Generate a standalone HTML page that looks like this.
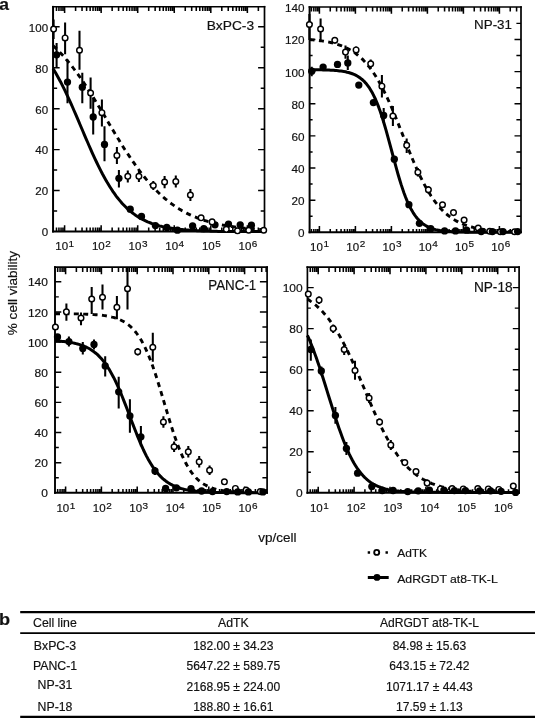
<!DOCTYPE html>
<html lang="en">
<head>
<meta charset="utf-8">
<title>Cell viability figure</title>
<style>
html,body{margin:0;padding:0;background:#fff;}
body{width:535px;height:720px;overflow:hidden;position:relative;font-family:"Liberation Sans", Arial, Helvetica, sans-serif;}
svg{position:absolute;left:0;top:0;display:block;will-change:transform;-webkit-font-smoothing:antialiased;}
svg text{font-family:"Liberation Sans", Arial, Helvetica, sans-serif;fill:#111;stroke:#111;stroke-width:0.18px;}
.tk{font-size:11.3px;}
.sup{font-size:9.8px;}
.ti{font-size:13px;}
.ax{font-size:13.5px;}
.lg{font-size:11.4px;}
.pl{font-size:16.5px;font-weight:bold;}
.tb{font-size:12px;}
</style>
</head>
<body>
<svg width="535" height="720" viewBox="0 0 535 720">
<rect x="0" y="0" width="535" height="720" fill="#fff"/>
<g id="plot1">
<path d="M53.05,5.9V232.45" stroke="#000" stroke-width="2.0" fill="none"/>
<path d="M52.05,231.5H265.35" stroke="#000" stroke-width="1.9" fill="none"/>
<path d="M264.5,5.9V232.45" stroke="#000" stroke-width="1.7" fill="none"/>
<path d="M52.05,6.75H265.35" stroke="#000" stroke-width="1.7" fill="none"/>
<path d="M56.49,231.5v-4.0M56.49,6.75v4.2M58.94,231.5v-4.0M58.94,6.75v4.2M61.06,231.5v-4.0M61.06,6.75v4.2M62.93,231.5v-4.0M62.93,6.75v4.2M64.6,231.5v-6.2M64.6,6.75v6.3M75.6,231.5v-4.0M75.6,6.75v4.2M82.04,231.5v-4.0M82.04,6.75v4.2M86.61,231.5v-4.0M86.61,6.75v4.2M90.15,231.5v-4.0M90.15,6.75v4.2M93.04,231.5v-4.0M93.04,6.75v4.2M95.49,231.5v-4.0M95.49,6.75v4.2M97.61,231.5v-4.0M97.61,6.75v4.2M99.48,231.5v-4.0M99.48,6.75v4.2M101.15,231.5v-6.2M101.15,6.75v6.3M112.15,231.5v-4.0M112.15,6.75v4.2M118.59,231.5v-4.0M118.59,6.75v4.2M123.16,231.5v-4.0M123.16,6.75v4.2M126.7,231.5v-4.0M126.7,6.75v4.2M129.59,231.5v-4.0M129.59,6.75v4.2M132.04,231.5v-4.0M132.04,6.75v4.2M134.16,231.5v-4.0M134.16,6.75v4.2M136.03,231.5v-4.0M136.03,6.75v4.2M137.7,231.5v-6.2M137.7,6.75v6.3M148.7,231.5v-4.0M148.7,6.75v4.2M155.14,231.5v-4.0M155.14,6.75v4.2M159.71,231.5v-4.0M159.71,6.75v4.2M163.25,231.5v-4.0M163.25,6.75v4.2M166.14,231.5v-4.0M166.14,6.75v4.2M168.59,231.5v-4.0M168.59,6.75v4.2M170.71,231.5v-4.0M170.71,6.75v4.2M172.58,231.5v-4.0M172.58,6.75v4.2M174.25,231.5v-6.2M174.25,6.75v6.3M185.25,231.5v-4.0M185.25,6.75v4.2M191.69,231.5v-4.0M191.69,6.75v4.2M196.26,231.5v-4.0M196.26,6.75v4.2M199.8,231.5v-4.0M199.8,6.75v4.2M202.69,231.5v-4.0M202.69,6.75v4.2M205.14,231.5v-4.0M205.14,6.75v4.2M207.26,231.5v-4.0M207.26,6.75v4.2M209.13,231.5v-4.0M209.13,6.75v4.2M210.8,231.5v-6.2M210.8,6.75v6.3M221.8,231.5v-4.0M221.8,6.75v4.2M228.24,231.5v-4.0M228.24,6.75v4.2M232.81,231.5v-4.0M232.81,6.75v4.2M236.35,231.5v-4.0M236.35,6.75v4.2M239.24,231.5v-4.0M239.24,6.75v4.2M241.69,231.5v-4.0M241.69,6.75v4.2M243.81,231.5v-4.0M243.81,6.75v4.2M245.68,231.5v-4.0M245.68,6.75v4.2M247.35,231.5v-6.2M247.35,6.75v6.3M258.35,231.5v-4.0M258.35,6.75v4.2" stroke="#000" stroke-width="1.55" fill="none"/>
<path d="M53.05,211.03h4.1M264.5,211.03h-3.8M53.05,190.56h6.6M264.5,190.56h-6.4M53.05,170.09h4.1M264.5,170.09h-3.8M53.05,149.62h6.6M264.5,149.62h-6.4M53.05,129.15h4.1M264.5,129.15h-3.8M53.05,108.68h6.6M264.5,108.68h-6.4M53.05,88.21h4.1M264.5,88.21h-3.8M53.05,67.74h6.6M264.5,67.74h-6.4M53.05,47.27h4.1M264.5,47.27h-3.8M53.05,26.8h6.6M264.5,26.8h-6.4" stroke="#000" stroke-width="1.45" fill="none"/>
<text transform="translate(48.05,235.6) scale(1.02,1)" text-anchor="end" class="tk">0</text>
<text transform="translate(48.05,194.9) scale(1.02,1)" text-anchor="end" class="tk">20</text>
<text transform="translate(48.05,154.2) scale(1.02,1)" text-anchor="end" class="tk">40</text>
<text transform="translate(48.05,113.5) scale(1.02,1)" text-anchor="end" class="tk">60</text>
<text transform="translate(48.05,72.8) scale(1.02,1)" text-anchor="end" class="tk">80</text>
<text transform="translate(48.05,32.1) scale(1.02,1)" text-anchor="end" class="tk">100</text>
<text transform="translate(55.3,250.3) scale(1.02,1)" class="tk">10<tspan dx="0.5" dy="-3.3" class="sup">1</tspan></text>
<text transform="translate(91.95,250.3) scale(1.02,1)" class="tk">10<tspan dx="0.5" dy="-3.3" class="sup">2</tspan></text>
<text transform="translate(128.6,250.3) scale(1.02,1)" class="tk">10<tspan dx="0.5" dy="-3.3" class="sup">3</tspan></text>
<text transform="translate(165.25,250.3) scale(1.02,1)" class="tk">10<tspan dx="0.5" dy="-3.3" class="sup">4</tspan></text>
<text transform="translate(201.9,250.3) scale(1.02,1)" class="tk">10<tspan dx="0.5" dy="-3.3" class="sup">5</tspan></text>
<text transform="translate(238.55,250.3) scale(1.02,1)" class="tk">10<tspan dx="0.5" dy="-3.3" class="sup">6</tspan></text>
<text transform="translate(254.1,30.1) scale(1.06,1)" text-anchor="end" class="ti" style="font-size:13px">BxPC-3</text>
<path d="M53.0,68.5 L54.5,71.0 L56.0,73.5 L57.5,76.2 L59.0,78.9 L60.5,81.7 L62.0,84.7 L63.5,87.6 L65.0,90.7 L66.5,93.9 L68.0,97.1 L69.5,100.3 L71.0,103.7 L72.5,107.0 L74.0,110.5 L75.5,113.9 L77.0,117.4 L78.5,120.9 L80.0,124.5 L81.5,128.0 L83.0,131.5 L84.5,135.1 L86.0,138.6 L87.5,142.0 L89.0,145.5 L90.5,148.9 L92.0,152.3 L93.5,155.6 L95.0,158.8 L96.5,162.0 L98.0,165.1 L99.5,168.1 L101.0,171.1 L102.5,174.0 L104.0,176.7 L105.5,179.4 L107.0,182.1 L108.5,184.6 L110.0,187.0 L111.5,189.3 L113.0,191.6 L114.5,193.7 L116.0,195.8 L117.5,197.8 L119.0,199.6 L120.5,201.4 L122.0,203.2 L123.5,204.8 L125.0,206.3 L126.5,207.8 L128.1,209.2 L129.6,210.5 L131.1,211.8 L132.6,213.0 L134.1,214.1 L135.6,215.2 L137.1,216.2 L138.6,217.1 L140.1,218.0 L141.6,218.9 L143.1,219.7 L144.6,220.4 L146.1,221.1 L147.6,221.8 L149.1,222.4 L150.6,223.0 L152.1,223.6 L153.6,224.1 L155.1,224.6 L156.6,225.0 L158.1,225.5 L159.6,225.9 L161.1,226.2 L162.6,226.6 L164.1,226.9 L165.6,227.2 L167.1,227.5 L168.6,227.8 L170.1,228.1 L171.6,228.3 L173.1,228.5 L174.6,228.7 L176.1,228.9 L177.6,229.1 L179.1,229.3 L180.6,229.5 L182.1,229.6 L183.6,229.7 L185.1,229.9 L186.6,230.0 L188.1,230.1 L189.6,230.2 L191.1,230.3 L192.6,230.4 L194.1,230.5 L195.6,230.6 L197.1,230.7 L198.6,230.8 L200.1,230.8 L201.6,230.9 L203.1,230.9 L204.6,231.0 L206.1,231.1 L207.6,231.1 L209.1,231.1 L210.6,231.2 L212.1,231.2 L213.6,231.3 L215.1,231.3 L216.6,231.3 L218.1,231.4 L219.6,231.4 L221.1,231.4 L222.6,231.4 L224.1,231.5 L225.6,231.5 L227.1,231.5 L228.6,231.5 L230.1,231.5 L231.6,231.5 L233.1,231.5 L234.6,231.5 L236.1,231.5 L237.6,231.5 L239.1,231.5 L240.6,231.5 L242.1,231.5 L243.6,231.5 L245.1,231.5 L246.6,231.5 L248.1,231.5 L249.6,231.5 L251.1,231.5 L252.6,231.5 L254.1,231.5 L255.6,231.5 L257.1,231.5 L258.6,231.5 L260.1,231.5 L261.6,231.5 L263.1,231.5" fill="none" stroke="#000" stroke-width="3.0" stroke-linejoin="round"/>
<path d="M53.0,45.6 L54.5,47.0 L56.0,48.4 L57.5,49.9 L59.0,51.4 L60.5,53.0 L62.0,54.6 L63.5,56.2 L65.0,57.9 L66.5,59.7 L68.0,61.4 L69.5,63.3 L71.0,65.1 L72.5,67.0 L74.0,69.0 L75.5,71.0 L77.0,73.0 L78.5,75.1 L80.0,77.2 L81.5,79.4 L83.0,81.6 L84.5,83.8 L86.0,86.0 L87.5,88.3 L89.0,90.7 L90.5,93.0 L92.0,95.4 L93.5,97.8 L95.0,100.2 L96.5,102.7 L98.0,105.1 L99.5,107.6 L101.0,110.1 L102.5,112.6 L104.0,115.1 L105.5,117.6 L107.0,120.2 L108.5,122.7 L110.0,125.2 L111.5,127.7 L113.0,130.2 L114.5,132.7 L116.0,135.2 L117.5,137.7 L119.0,140.1 L120.5,142.6 L122.0,145.0 L123.5,147.4 L125.0,149.7 L126.5,152.1 L128.1,154.4 L129.6,156.6 L131.1,158.9 L132.6,161.1 L134.1,163.2 L135.6,165.4 L137.1,167.5 L138.6,169.5 L140.1,171.5 L141.6,173.5 L143.1,175.4 L144.6,177.3 L146.1,179.1 L147.6,180.9 L149.1,182.7 L150.6,184.4 L152.1,186.1 L153.6,187.7 L155.1,189.3 L156.6,190.8 L158.1,192.3 L159.6,193.7 L161.1,195.1 L162.6,196.5 L164.1,197.8 L165.6,199.1 L167.1,200.3 L168.6,201.5 L170.1,202.7 L171.6,203.8 L173.1,204.9 L174.6,206.0 L176.1,207.0 L177.6,207.9 L179.1,208.9 L180.6,209.8 L182.1,210.7 L183.6,211.5 L185.1,212.3 L186.6,213.1 L188.1,213.9 L189.6,214.6 L191.1,215.3 L192.6,215.9 L194.1,216.6 L195.6,217.2 L197.1,217.8 L198.6,218.4 L200.1,218.9 L201.6,219.5 L203.1,220.0 L204.6,220.5 L206.1,220.9 L207.6,221.4 L209.1,221.8 L210.6,222.2 L212.1,222.6 L213.6,223.0 L215.1,223.4 L216.6,223.7 L218.1,224.0 L219.6,224.4 L221.1,224.7 L222.6,225.0 L224.1,225.2 L225.6,225.5 L227.1,225.8 L228.6,226.0 L230.1,226.3 L231.6,226.5 L233.1,226.7 L234.6,226.9 L236.1,227.1 L237.6,227.3 L239.1,227.5 L240.6,227.7 L242.1,227.8 L243.6,228.0 L245.1,228.1 L246.6,228.3 L248.1,228.4 L249.6,228.6 L251.1,228.7 L252.6,228.8 L254.1,228.9 L255.6,229.1 L257.1,229.2 L258.6,229.3 L260.1,229.4 L261.6,229.5 L263.1,229.5" fill="none" stroke="#000" stroke-width="2.9" stroke-dasharray="5 4.4" stroke-linejoin="round"/>
<path d="M56.6,43V67.7M67.5,59.5V103.3M82.3,72.8V103.3M93.2,97.5V134.5M104.5,126.3V161.3M118.9,170V187.4" stroke="#000" stroke-width="2.05" fill="none"/>
<circle cx="56.6" cy="54.8" r="3.65" fill="#000"/>
<circle cx="67.5" cy="82.1" r="3.65" fill="#000"/>
<circle cx="82.3" cy="87.2" r="3.65" fill="#000"/>
<circle cx="93.2" cy="117" r="3.65" fill="#000"/>
<circle cx="104.5" cy="144.4" r="3.65" fill="#000"/>
<circle cx="118.9" cy="178.3" r="3.65" fill="#000"/>
<circle cx="130.2" cy="209.2" r="3.65" fill="#000"/>
<circle cx="141.5" cy="216.4" r="3.65" fill="#000"/>
<circle cx="155.4" cy="225.6" r="3.65" fill="#000"/>
<circle cx="166.8" cy="227.5" r="3.65" fill="#000"/>
<circle cx="177.4" cy="230.2" r="3.65" fill="#000"/>
<circle cx="192.6" cy="225.9" r="3.65" fill="#000"/>
<circle cx="203.8" cy="228.6" r="3.65" fill="#000"/>
<circle cx="215" cy="224.8" r="3.65" fill="#000"/>
<circle cx="228.5" cy="224.1" r="3.65" fill="#000"/>
<circle cx="240.2" cy="224.8" r="3.65" fill="#000"/>
<circle cx="251.4" cy="225.2" r="3.65" fill="#000"/>
<path d="M53.6,19.4V38.9M65.1,22.5V54.3M79.5,30.7V69.8M90.6,77.4V108.8M101.9,99.6V126.5M116.9,146.9V163.9M127.8,170.5V182.4M138.9,171V182M153.3,181V190M164.6,175.9V188.2M175.8,175.4V187.5M190.4,188.9V201" stroke="#000" stroke-width="2.05" fill="none"/>
<circle cx="53.6" cy="29.1" r="2.8" fill="#fff" stroke="#000" stroke-width="1.45"/>
<circle cx="65.1" cy="37.9" r="2.8" fill="#fff" stroke="#000" stroke-width="1.45"/>
<circle cx="79.5" cy="50.2" r="2.8" fill="#fff" stroke="#000" stroke-width="1.45"/>
<circle cx="90.6" cy="93" r="2.8" fill="#fff" stroke="#000" stroke-width="1.45"/>
<circle cx="101.9" cy="112.7" r="2.8" fill="#fff" stroke="#000" stroke-width="1.45"/>
<circle cx="116.9" cy="155.5" r="2.8" fill="#fff" stroke="#000" stroke-width="1.45"/>
<circle cx="127.8" cy="176.3" r="2.8" fill="#fff" stroke="#000" stroke-width="1.45"/>
<circle cx="138.9" cy="176.3" r="2.8" fill="#fff" stroke="#000" stroke-width="1.45"/>
<circle cx="153.3" cy="185.5" r="2.8" fill="#fff" stroke="#000" stroke-width="1.45"/>
<circle cx="164.6" cy="182" r="2.8" fill="#fff" stroke="#000" stroke-width="1.45"/>
<circle cx="175.8" cy="181.5" r="2.8" fill="#fff" stroke="#000" stroke-width="1.45"/>
<circle cx="190.4" cy="195" r="2.8" fill="#fff" stroke="#000" stroke-width="1.45"/>
<circle cx="201.1" cy="217.8" r="2.8" fill="#fff" stroke="#000" stroke-width="1.45"/>
<circle cx="212.1" cy="221.9" r="2.8" fill="#fff" stroke="#000" stroke-width="1.45"/>
<circle cx="226.3" cy="229.3" r="2.8" fill="#fff" stroke="#000" stroke-width="1.45"/>
<circle cx="237.5" cy="230.8" r="2.8" fill="#fff" stroke="#000" stroke-width="1.45"/>
<circle cx="248.7" cy="230.2" r="2.8" fill="#fff" stroke="#000" stroke-width="1.45"/>
<circle cx="263.7" cy="230.2" r="2.8" fill="#fff" stroke="#000" stroke-width="1.45"/>
</g>
<g id="plot2">
<path d="M309.6,6.15V233.25" stroke="#000" stroke-width="2.0" fill="none"/>
<path d="M308.6,232.3H521.85" stroke="#000" stroke-width="1.9" fill="none"/>
<path d="M521,6.15V233.25" stroke="#000" stroke-width="1.7" fill="none"/>
<path d="M308.6,7H521.85" stroke="#000" stroke-width="1.7" fill="none"/>
<path d="M311.41,232.3v-3.4M311.41,7v4.5M313.82,232.3v-3.4M313.82,7v4.5M315.91,232.3v-3.4M315.91,7v4.5M317.75,232.3v-3.4M317.75,7v4.5M319.4,232.3v-6.2M319.4,7v6.7M330.24,232.3v-3.4M330.24,7v4.5M336.58,232.3v-3.4M336.58,7v4.5M341.07,232.3v-3.4M341.07,7v4.5M344.56,232.3v-3.4M344.56,7v4.5M347.41,232.3v-3.4M347.41,7v4.5M349.82,232.3v-3.4M349.82,7v4.5M351.91,232.3v-3.4M351.91,7v4.5M353.75,232.3v-3.4M353.75,7v4.5M355.4,232.3v-6.2M355.4,7v6.7M366.24,232.3v-3.4M366.24,7v4.5M372.58,232.3v-3.4M372.58,7v4.5M377.07,232.3v-3.4M377.07,7v4.5M380.56,232.3v-3.4M380.56,7v4.5M383.41,232.3v-3.4M383.41,7v4.5M385.82,232.3v-3.4M385.82,7v4.5M387.91,232.3v-3.4M387.91,7v4.5M389.75,232.3v-3.4M389.75,7v4.5M391.4,232.3v-6.2M391.4,7v6.7M402.24,232.3v-3.4M402.24,7v4.5M408.58,232.3v-3.4M408.58,7v4.5M413.07,232.3v-3.4M413.07,7v4.5M416.56,232.3v-3.4M416.56,7v4.5M419.41,232.3v-3.4M419.41,7v4.5M421.82,232.3v-3.4M421.82,7v4.5M423.91,232.3v-3.4M423.91,7v4.5M425.75,232.3v-3.4M425.75,7v4.5M427.4,232.3v-6.2M427.4,7v6.7M438.24,232.3v-3.4M438.24,7v4.5M444.58,232.3v-3.4M444.58,7v4.5M449.07,232.3v-3.4M449.07,7v4.5M452.56,232.3v-3.4M452.56,7v4.5M455.41,232.3v-3.4M455.41,7v4.5M457.82,232.3v-3.4M457.82,7v4.5M459.91,232.3v-3.4M459.91,7v4.5M461.75,232.3v-3.4M461.75,7v4.5M463.4,232.3v-6.2M463.4,7v6.7M474.24,232.3v-3.4M474.24,7v4.5M480.58,232.3v-3.4M480.58,7v4.5M485.07,232.3v-3.4M485.07,7v4.5M488.56,232.3v-3.4M488.56,7v4.5M491.41,232.3v-3.4M491.41,7v4.5M493.82,232.3v-3.4M493.82,7v4.5M495.91,232.3v-3.4M495.91,7v4.5M497.75,232.3v-3.4M497.75,7v4.5M499.4,232.3v-6.2M499.4,7v6.7M510.24,232.3v-3.4M510.24,7v4.5M516.58,232.3v-3.4M516.58,7v4.5" stroke="#000" stroke-width="1.55" fill="none"/>
<path d="M309.6,216.23h3.0M521,216.23h-4.6M309.6,200.16h5.8M521,200.16h-6.5M309.6,184.09h3.0M521,184.09h-4.6M309.6,168.02h5.8M521,168.02h-6.5M309.6,151.95h3.0M521,151.95h-4.6M309.6,135.88h5.8M521,135.88h-6.5M309.6,119.81h3.0M521,119.81h-4.6M309.6,103.74h5.8M521,103.74h-6.5M309.6,87.67h3.0M521,87.67h-4.6M309.6,71.6h5.8M521,71.6h-6.5M309.6,55.53h3.0M521,55.53h-4.6M309.6,39.46h5.8M521,39.46h-6.5M309.6,23.39h3.0M521,23.39h-4.6" stroke="#000" stroke-width="1.45" fill="none"/>
<text transform="translate(304.6,237.2) scale(1.04,1)" text-anchor="end" class="tk">0</text>
<text transform="translate(304.6,205.06) scale(1.04,1)" text-anchor="end" class="tk">20</text>
<text transform="translate(304.6,172.92) scale(1.04,1)" text-anchor="end" class="tk">40</text>
<text transform="translate(304.6,140.78) scale(1.04,1)" text-anchor="end" class="tk">60</text>
<text transform="translate(304.6,108.64) scale(1.04,1)" text-anchor="end" class="tk">80</text>
<text transform="translate(304.6,76.5) scale(1.04,1)" text-anchor="end" class="tk">100</text>
<text transform="translate(304.6,44.36) scale(1.04,1)" text-anchor="end" class="tk">120</text>
<text transform="translate(304.6,12.22) scale(1.04,1)" text-anchor="end" class="tk">140</text>
<text transform="translate(310.1,250.5) scale(1.02,1)" class="tk">10<tspan dx="0.5" dy="-3.3" class="sup">1</tspan></text>
<text transform="translate(346.35,250.5) scale(1.02,1)" class="tk">10<tspan dx="0.5" dy="-3.3" class="sup">2</tspan></text>
<text transform="translate(382.6,250.5) scale(1.02,1)" class="tk">10<tspan dx="0.5" dy="-3.3" class="sup">3</tspan></text>
<text transform="translate(418.85,250.5) scale(1.02,1)" class="tk">10<tspan dx="0.5" dy="-3.3" class="sup">4</tspan></text>
<text transform="translate(455.1,250.5) scale(1.02,1)" class="tk">10<tspan dx="0.5" dy="-3.3" class="sup">5</tspan></text>
<text transform="translate(491.35,250.5) scale(1.02,1)" class="tk">10<tspan dx="0.5" dy="-3.3" class="sup">6</tspan></text>
<text transform="translate(512,28.6) scale(1.03,1)" text-anchor="end" class="ti" style="font-size:13px">NP-31</text>
<path d="M309.6,69.7 L311.1,69.7 L312.6,69.7 L314.1,69.7 L315.6,69.7 L317.1,69.8 L318.6,69.8 L320.1,69.8 L321.6,69.8 L323.1,69.9 L324.6,69.9 L326.1,70.0 L327.6,70.0 L329.1,70.1 L330.6,70.2 L332.1,70.2 L333.6,70.3 L335.1,70.5 L336.6,70.6 L338.1,70.7 L339.6,70.9 L341.1,71.1 L342.6,71.3 L344.1,71.6 L345.6,71.8 L347.1,72.2 L348.6,72.5 L350.1,73.0 L351.6,73.5 L353.1,74.0 L354.6,74.7 L356.1,75.4 L357.6,76.2 L359.1,77.2 L360.6,78.3 L362.1,79.5 L363.6,80.8 L365.1,82.4 L366.6,84.1 L368.1,86.1 L369.6,88.2 L371.1,90.7 L372.6,93.3 L374.1,96.3 L375.6,99.5 L377.1,103.1 L378.6,106.9 L380.1,111.1 L381.6,115.5 L383.1,120.2 L384.6,125.2 L386.1,130.4 L387.6,135.8 L389.1,141.3 L390.6,146.9 L392.1,152.5 L393.6,158.2 L395.1,163.7 L396.6,169.2 L398.1,174.5 L399.6,179.5 L401.1,184.4 L402.6,188.9 L404.1,193.2 L405.6,197.2 L407.1,200.9 L408.6,204.2 L410.1,207.3 L411.6,210.1 L413.1,212.6 L414.6,214.9 L416.1,217.0 L417.6,218.8 L419.1,220.4 L420.6,221.9 L422.1,223.1 L423.6,224.3 L425.1,225.3 L426.6,226.1 L428.1,226.9 L429.6,227.6 L431.1,228.2 L432.6,228.7 L434.1,229.2 L435.6,229.6 L437.1,229.9 L438.6,230.2 L440.1,230.5 L441.6,230.7 L443.1,230.9 L444.6,231.1 L446.1,231.3 L447.6,231.4 L449.1,231.5 L450.6,231.6 L452.1,231.7 L453.6,231.8 L455.1,231.8 L456.6,231.9 L458.1,232.0 L459.6,232.0 L461.1,232.0 L462.6,232.1 L464.1,232.1 L465.6,232.1 L467.1,232.1 L468.6,232.2 L470.1,232.2 L471.6,232.2 L473.1,232.2 L474.6,232.2 L476.1,232.2 L477.6,232.2 L479.1,232.3 L480.6,232.3 L482.1,232.3 L483.6,232.3 L485.1,232.3 L486.6,232.3 L488.1,232.3 L489.6,232.3 L491.1,232.3 L492.6,232.3 L494.1,232.3 L495.6,232.3 L497.1,232.3 L498.6,232.3 L500.1,232.3 L501.6,232.3 L503.1,232.3 L504.6,232.3 L506.1,232.3 L507.6,232.3 L509.1,232.3 L510.6,232.3 L512.1,232.3 L513.6,232.3 L515.1,232.3 L516.6,232.3 L518.1,232.3 L519.6,232.3" fill="none" stroke="#000" stroke-width="3.0" stroke-linejoin="round"/>
<path d="M309.6,39.6 L311.1,39.7 L312.6,39.9 L314.1,40.0 L315.6,40.2 L317.1,40.3 L318.6,40.5 L320.1,40.7 L321.6,40.9 L323.1,41.1 L324.6,41.4 L326.1,41.6 L327.6,41.9 L329.1,42.2 L330.6,42.5 L332.1,42.9 L333.6,43.3 L335.1,43.7 L336.6,44.1 L338.1,44.6 L339.6,45.1 L341.1,45.6 L342.6,46.2 L344.1,46.8 L345.6,47.5 L347.1,48.2 L348.6,49.0 L350.1,49.9 L351.6,50.7 L353.1,51.7 L354.6,52.7 L356.1,53.8 L357.6,55.0 L359.1,56.2 L360.6,57.5 L362.1,58.9 L363.6,60.4 L365.1,62.0 L366.6,63.7 L368.1,65.5 L369.6,67.4 L371.1,69.4 L372.6,71.5 L374.1,73.7 L375.6,76.0 L377.1,78.5 L378.6,81.0 L380.1,83.7 L381.6,86.5 L383.1,89.3 L384.6,92.3 L386.1,95.4 L387.6,98.6 L389.1,101.9 L390.6,105.3 L392.1,108.8 L393.6,112.3 L395.1,115.9 L396.6,119.6 L398.1,123.3 L399.6,127.1 L401.1,130.8 L402.6,134.6 L404.1,138.4 L405.6,142.2 L407.1,145.9 L408.6,149.7 L410.1,153.3 L411.6,157.0 L413.1,160.5 L414.6,164.0 L416.1,167.4 L417.6,170.8 L419.1,174.0 L420.6,177.1 L422.1,180.1 L423.6,183.1 L425.1,185.9 L426.6,188.6 L428.1,191.2 L429.6,193.6 L431.1,196.0 L432.6,198.2 L434.1,200.4 L435.6,202.4 L437.1,204.3 L438.6,206.1 L440.1,207.9 L441.6,209.5 L443.1,211.0 L444.6,212.4 L446.1,213.8 L447.6,215.0 L449.1,216.2 L450.6,217.3 L452.1,218.4 L453.6,219.4 L455.1,220.3 L456.6,221.1 L458.1,221.9 L459.6,222.7 L461.1,223.3 L462.6,224.0 L464.1,224.6 L465.6,225.1 L467.1,225.7 L468.6,226.1 L470.1,226.6 L471.6,227.0 L473.1,227.4 L474.6,227.8 L476.1,228.1 L477.6,228.4 L479.1,228.7 L480.6,229.0 L482.1,229.2 L483.6,229.4 L485.1,229.6 L486.6,229.8 L488.1,230.0 L489.6,230.2 L491.1,230.3 L492.6,230.5 L494.1,230.6 L495.6,230.8 L497.1,230.9 L498.6,231.0 L500.1,231.1 L501.6,231.2 L503.1,231.2 L504.6,231.3 L506.1,231.4 L507.6,231.5 L509.1,231.5 L510.6,231.6 L512.1,231.6 L513.6,231.7 L515.1,231.7 L516.6,231.8 L518.1,231.8 L519.6,231.9" fill="none" stroke="#000" stroke-width="2.9" stroke-dasharray="5 4.4" stroke-linejoin="round"/>
<path d="M309.4,14V40M320.6,18.5V41.5M334.8,37V43.5M345.5,45.4V58.8M356.1,46.5V53.5M370.7,59.5V68M381.9,75V97.4M392.9,106V126M406.7,138.6V153.1M417.9,168V176.5M428.4,186V193.5" stroke="#000" stroke-width="2.05" fill="none"/>
<circle cx="309.4" cy="24.5" r="2.8" fill="#fff" stroke="#000" stroke-width="1.45"/>
<circle cx="320.6" cy="29" r="2.8" fill="#fff" stroke="#000" stroke-width="1.45"/>
<circle cx="334.8" cy="40.2" r="2.8" fill="#fff" stroke="#000" stroke-width="1.45"/>
<circle cx="345.5" cy="52.1" r="2.8" fill="#fff" stroke="#000" stroke-width="1.45"/>
<circle cx="356.1" cy="49.9" r="2.8" fill="#fff" stroke="#000" stroke-width="1.45"/>
<circle cx="370.7" cy="63.8" r="2.8" fill="#fff" stroke="#000" stroke-width="1.45"/>
<circle cx="381.9" cy="86.2" r="2.8" fill="#fff" stroke="#000" stroke-width="1.45"/>
<circle cx="392.9" cy="116" r="2.8" fill="#fff" stroke="#000" stroke-width="1.45"/>
<circle cx="406.7" cy="145.3" r="2.8" fill="#fff" stroke="#000" stroke-width="1.45"/>
<circle cx="417.9" cy="172.2" r="2.8" fill="#fff" stroke="#000" stroke-width="1.45"/>
<circle cx="428.4" cy="189.7" r="2.8" fill="#fff" stroke="#000" stroke-width="1.45"/>
<circle cx="442.5" cy="204.7" r="2.8" fill="#fff" stroke="#000" stroke-width="1.45"/>
<circle cx="453.5" cy="212.6" r="2.8" fill="#fff" stroke="#000" stroke-width="1.45"/>
<circle cx="464.1" cy="220" r="2.8" fill="#fff" stroke="#000" stroke-width="1.45"/>
<circle cx="478.2" cy="228" r="2.8" fill="#fff" stroke="#000" stroke-width="1.45"/>
<circle cx="489.7" cy="231.3" r="2.8" fill="#fff" stroke="#000" stroke-width="1.45"/>
<circle cx="500.4" cy="231.8" r="2.8" fill="#fff" stroke="#000" stroke-width="1.45"/>
<circle cx="514.6" cy="231.8" r="2.8" fill="#fff" stroke="#000" stroke-width="1.45"/>
<path d="M311.7,66.7V76.3M347.8,55.5V70M383.7,108V123" stroke="#000" stroke-width="2.05" fill="none"/>
<circle cx="311.7" cy="71.2" r="3.65" fill="#000"/>
<circle cx="323.1" cy="67.1" r="3.65" fill="#000"/>
<circle cx="337.5" cy="64.4" r="3.65" fill="#000"/>
<circle cx="347.8" cy="62.9" r="3.65" fill="#000"/>
<circle cx="358.8" cy="85.1" r="3.65" fill="#000"/>
<circle cx="373.4" cy="102.6" r="3.65" fill="#000"/>
<circle cx="383.7" cy="115.5" r="3.65" fill="#000"/>
<circle cx="394.3" cy="159.2" r="3.65" fill="#000"/>
<circle cx="408.9" cy="204.7" r="3.65" fill="#000"/>
<circle cx="419.4" cy="223.3" r="3.65" fill="#000"/>
<circle cx="430.7" cy="228.7" r="3.65" fill="#000"/>
<circle cx="444.6" cy="230.9" r="3.65" fill="#000"/>
<circle cx="455.5" cy="230.9" r="3.65" fill="#000"/>
<circle cx="466.6" cy="230.2" r="3.65" fill="#000"/>
<circle cx="481.2" cy="231.6" r="3.65" fill="#000"/>
<circle cx="492.4" cy="231.6" r="3.65" fill="#000"/>
<circle cx="503" cy="231.6" r="3.65" fill="#000"/>
<circle cx="517.6" cy="231.6" r="3.65" fill="#000"/>
</g>
<g id="plot3">
<path d="M55,266.35V493.75" stroke="#000" stroke-width="1.9" fill="none"/>
<path d="M54,492.8H267.95" stroke="#000" stroke-width="1.9" fill="none"/>
<path d="M267.1,266.35V493.75" stroke="#000" stroke-width="1.7" fill="none"/>
<path d="M54,267.2H267.95" stroke="#000" stroke-width="1.7" fill="none"/>
<path d="M57.66,492.8v-3.9M57.66,267.2v4.7M60.05,492.8v-3.9M60.05,267.2v4.7M62.13,492.8v-3.9M62.13,267.2v4.7M63.96,492.8v-3.9M63.96,267.2v4.7M65.6,492.8v-6.2M65.6,267.2v7.0M76.38,492.8v-3.9M76.38,267.2v4.7M82.68,492.8v-3.9M82.68,267.2v4.7M87.15,492.8v-3.9M87.15,267.2v4.7M90.62,492.8v-3.9M90.62,267.2v4.7M93.46,492.8v-3.9M93.46,267.2v4.7M95.85,492.8v-3.9M95.85,267.2v4.7M97.93,492.8v-3.9M97.93,267.2v4.7M99.76,492.8v-3.9M99.76,267.2v4.7M101.4,492.8v-6.2M101.4,267.2v7.0M112.18,492.8v-3.9M112.18,267.2v4.7M118.48,492.8v-3.9M118.48,267.2v4.7M122.95,492.8v-3.9M122.95,267.2v4.7M126.42,492.8v-3.9M126.42,267.2v4.7M129.26,492.8v-3.9M129.26,267.2v4.7M131.65,492.8v-3.9M131.65,267.2v4.7M133.73,492.8v-3.9M133.73,267.2v4.7M135.56,492.8v-3.9M135.56,267.2v4.7M137.2,492.8v-6.2M137.2,267.2v7.0M147.98,492.8v-3.9M147.98,267.2v4.7M154.28,492.8v-3.9M154.28,267.2v4.7M158.75,492.8v-3.9M158.75,267.2v4.7M162.22,492.8v-3.9M162.22,267.2v4.7M165.06,492.8v-3.9M165.06,267.2v4.7M167.45,492.8v-3.9M167.45,267.2v4.7M169.53,492.8v-3.9M169.53,267.2v4.7M171.36,492.8v-3.9M171.36,267.2v4.7M173,492.8v-6.2M173,267.2v7.0M183.78,492.8v-3.9M183.78,267.2v4.7M190.08,492.8v-3.9M190.08,267.2v4.7M194.55,492.8v-3.9M194.55,267.2v4.7M198.02,492.8v-3.9M198.02,267.2v4.7M200.86,492.8v-3.9M200.86,267.2v4.7M203.25,492.8v-3.9M203.25,267.2v4.7M205.33,492.8v-3.9M205.33,267.2v4.7M207.16,492.8v-3.9M207.16,267.2v4.7M208.8,492.8v-6.2M208.8,267.2v7.0M219.58,492.8v-3.9M219.58,267.2v4.7M225.88,492.8v-3.9M225.88,267.2v4.7M230.35,492.8v-3.9M230.35,267.2v4.7M233.82,492.8v-3.9M233.82,267.2v4.7M236.66,492.8v-3.9M236.66,267.2v4.7M239.05,492.8v-3.9M239.05,267.2v4.7M241.13,492.8v-3.9M241.13,267.2v4.7M242.96,492.8v-3.9M242.96,267.2v4.7M244.6,492.8v-6.2M244.6,267.2v7.0M255.38,492.8v-3.9M255.38,267.2v4.7M261.68,492.8v-3.9M261.68,267.2v4.7M266.15,492.8v-3.9M266.15,267.2v4.7" stroke="#000" stroke-width="1.55" fill="none"/>
<path d="M55,477.73h3.8M267.1,477.73h-4.7M55,462.66h6.3M267.1,462.66h-7.2M55,447.59h3.8M267.1,447.59h-4.7M55,432.52h6.3M267.1,432.52h-7.2M55,417.45h3.8M267.1,417.45h-4.7M55,402.38h6.3M267.1,402.38h-7.2M55,387.31h3.8M267.1,387.31h-4.7M55,372.24h6.3M267.1,372.24h-7.2M55,357.17h3.8M267.1,357.17h-4.7M55,342.1h6.3M267.1,342.1h-7.2M55,327.03h3.8M267.1,327.03h-4.7M55,311.96h6.3M267.1,311.96h-7.2M55,296.89h3.8M267.1,296.89h-4.7M55,281.82h6.3M267.1,281.82h-7.2" stroke="#000" stroke-width="1.45" fill="none"/>
<text transform="translate(47.9,497.3) scale(1.06,1)" text-anchor="end" class="tk">0</text>
<text transform="translate(47.9,467.18) scale(1.06,1)" text-anchor="end" class="tk">20</text>
<text transform="translate(47.9,437.06) scale(1.06,1)" text-anchor="end" class="tk">40</text>
<text transform="translate(47.9,406.94) scale(1.06,1)" text-anchor="end" class="tk">60</text>
<text transform="translate(47.9,376.82) scale(1.06,1)" text-anchor="end" class="tk">80</text>
<text transform="translate(47.9,346.7) scale(1.06,1)" text-anchor="end" class="tk">100</text>
<text transform="translate(47.9,316.58) scale(1.06,1)" text-anchor="end" class="tk">120</text>
<text transform="translate(47.9,286.46) scale(1.06,1)" text-anchor="end" class="tk">140</text>
<text transform="translate(56.4,512.3) scale(1.02,1)" class="tk">10<tspan dx="0.5" dy="-3.3" class="sup">1</tspan></text>
<text transform="translate(92.84,512.3) scale(1.02,1)" class="tk">10<tspan dx="0.5" dy="-3.3" class="sup">2</tspan></text>
<text transform="translate(129.28,512.3) scale(1.02,1)" class="tk">10<tspan dx="0.5" dy="-3.3" class="sup">3</tspan></text>
<text transform="translate(165.72,512.3) scale(1.02,1)" class="tk">10<tspan dx="0.5" dy="-3.3" class="sup">4</tspan></text>
<text transform="translate(202.16,512.3) scale(1.02,1)" class="tk">10<tspan dx="0.5" dy="-3.3" class="sup">5</tspan></text>
<text transform="translate(238.6,512.3) scale(1.02,1)" class="tk">10<tspan dx="0.5" dy="-3.3" class="sup">6</tspan></text>
<text transform="translate(256.3,290.2) scale(0.957,1)" text-anchor="end" class="ti" style="font-size:14px">PANC-1</text>
<path d="M55.0,340.9 L56.5,340.9 L58.0,341.1 L59.5,341.2 L61.0,341.3 L62.5,341.4 L64.0,341.6 L65.5,341.8 L67.0,341.9 L68.5,342.2 L70.0,342.4 L71.5,342.6 L73.0,342.9 L74.5,343.2 L76.0,343.6 L77.5,344.0 L79.0,344.4 L80.5,344.9 L82.0,345.4 L83.5,345.9 L85.0,346.6 L86.5,347.2 L88.0,348.0 L89.5,348.8 L91.0,349.7 L92.5,350.7 L94.0,351.8 L95.5,353.0 L97.0,354.2 L98.5,355.6 L100.0,357.2 L101.5,358.8 L103.0,360.6 L104.5,362.5 L106.0,364.6 L107.5,366.8 L109.0,369.1 L110.5,371.7 L112.0,374.4 L113.5,377.2 L115.0,380.2 L116.5,383.4 L118.0,386.6 L119.5,390.1 L121.0,393.6 L122.5,397.3 L124.0,401.1 L125.5,404.9 L127.0,408.8 L128.5,412.7 L130.0,416.7 L131.5,420.7 L133.0,424.6 L134.5,428.5 L136.0,432.3 L137.5,436.1 L139.0,439.7 L140.5,443.3 L142.0,446.7 L143.5,450.0 L145.0,453.1 L146.5,456.1 L148.0,458.9 L149.5,461.5 L151.0,464.0 L152.5,466.4 L154.0,468.6 L155.5,470.6 L157.0,472.5 L158.5,474.3 L160.0,475.9 L161.5,477.4 L163.0,478.8 L164.5,480.0 L166.0,481.2 L167.5,482.3 L169.0,483.2 L170.5,484.1 L172.0,484.9 L173.5,485.7 L175.0,486.4 L176.5,487.0 L178.0,487.5 L179.5,488.0 L181.0,488.5 L182.5,488.9 L184.0,489.3 L185.5,489.6 L187.0,489.9 L188.5,490.2 L190.0,490.5 L191.5,490.7 L193.0,490.9 L194.5,491.1 L196.0,491.2 L197.5,491.4 L199.0,491.5 L200.5,491.7 L202.0,491.8 L203.5,491.9 L205.0,492.0 L206.5,492.0 L208.0,492.1 L209.5,492.2 L211.0,492.2 L212.5,492.3 L214.0,492.3 L215.5,492.4 L217.0,492.4 L218.5,492.5 L220.0,492.5 L221.5,492.5 L223.0,492.6 L224.5,492.6 L226.0,492.6 L227.5,492.6 L229.0,492.6 L230.5,492.7 L232.0,492.7 L233.5,492.7 L235.0,492.7 L236.5,492.7 L238.0,492.7 L239.5,492.7 L241.0,492.7 L242.5,492.7 L244.0,492.7 L245.5,492.7 L247.0,492.8 L248.5,492.8 L250.0,492.8 L251.5,492.8 L253.0,492.8 L254.5,492.8 L256.0,492.8 L257.5,492.8 L259.0,492.8 L260.5,492.8 L262.0,492.8 L263.5,492.8 L265.0,492.8" fill="none" stroke="#000" stroke-width="3.0" stroke-linejoin="round"/>
<path d="M55.0,313.7 L56.5,313.7 L58.0,313.7 L59.5,313.7 L61.0,313.7 L62.5,313.8 L64.0,313.8 L65.5,313.8 L67.0,313.8 L68.5,313.8 L70.0,313.8 L71.5,313.8 L73.0,313.9 L74.5,313.9 L76.0,313.9 L77.5,313.9 L79.0,314.0 L80.5,314.0 L82.0,314.0 L83.5,314.1 L85.0,314.1 L86.5,314.2 L88.0,314.2 L89.5,314.3 L91.0,314.4 L92.5,314.5 L94.0,314.6 L95.5,314.7 L97.0,314.8 L98.5,314.9 L100.0,315.1 L101.5,315.2 L103.0,315.4 L104.5,315.6 L106.0,315.8 L107.5,316.1 L109.0,316.4 L110.5,316.7 L112.0,317.1 L113.5,317.4 L115.0,317.9 L116.5,318.4 L118.0,318.9 L119.5,319.5 L121.0,320.2 L122.5,321.0 L124.0,321.8 L125.5,322.7 L127.0,323.8 L128.5,324.9 L130.0,326.1 L131.5,327.5 L133.0,329.0 L134.5,330.7 L136.0,332.5 L137.5,334.5 L139.0,336.7 L140.5,339.1 L142.0,341.6 L143.5,344.4 L145.0,347.4 L146.5,350.6 L148.0,354.0 L149.5,357.7 L151.0,361.5 L152.5,365.6 L154.0,369.9 L155.5,374.3 L157.0,378.9 L158.5,383.7 L160.0,388.6 L161.5,393.6 L163.0,398.6 L164.5,403.7 L166.0,408.7 L167.5,413.7 L169.0,418.7 L170.5,423.6 L172.0,428.3 L173.5,432.9 L175.0,437.3 L176.5,441.6 L178.0,445.6 L179.5,449.4 L181.0,453.0 L182.5,456.4 L184.0,459.6 L185.5,462.5 L187.0,465.3 L188.5,467.8 L190.0,470.2 L191.5,472.3 L193.0,474.3 L194.5,476.1 L196.0,477.7 L197.5,479.2 L199.0,480.6 L200.5,481.8 L202.0,482.9 L203.5,483.9 L205.0,484.8 L206.5,485.6 L208.0,486.4 L209.5,487.0 L211.0,487.6 L212.5,488.2 L214.0,488.7 L215.5,489.1 L217.0,489.5 L218.5,489.8 L220.0,490.1 L221.5,490.4 L223.0,490.7 L224.5,490.9 L226.0,491.1 L227.5,491.3 L229.0,491.4 L230.5,491.6 L232.0,491.7 L233.5,491.8 L235.0,491.9 L236.5,492.0 L238.0,492.1 L239.5,492.2 L241.0,492.2 L242.5,492.3 L244.0,492.4 L245.5,492.4 L247.0,492.4 L248.5,492.5 L250.0,492.5 L251.5,492.5 L253.0,492.6 L254.5,492.6 L256.0,492.6 L257.5,492.6 L259.0,492.7 L260.5,492.7 L262.0,492.7 L263.5,492.7 L265.0,492.7" fill="none" stroke="#000" stroke-width="2.9" stroke-dasharray="5 4.4" stroke-linejoin="round"/>
<path d="M66.4,303.5V320.8M81,312.5V325.3M91.7,287V314M102.5,284.4V309.6M116.9,296V319.2M127.5,267.6V309.5M137.7,348V355.5M152.8,332.7V361.8M163.4,416.3V427.7M174.1,441.5V452M188.3,446V457.6M199.2,456V467.6M209.6,465.5V475" stroke="#000" stroke-width="2.05" fill="none"/>
<circle cx="55.4" cy="327" r="2.8" fill="#fff" stroke="#000" stroke-width="1.45"/>
<circle cx="66.4" cy="311.8" r="2.8" fill="#fff" stroke="#000" stroke-width="1.45"/>
<circle cx="81" cy="318" r="2.8" fill="#fff" stroke="#000" stroke-width="1.45"/>
<circle cx="91.7" cy="299" r="2.8" fill="#fff" stroke="#000" stroke-width="1.45"/>
<circle cx="102.5" cy="297.2" r="2.8" fill="#fff" stroke="#000" stroke-width="1.45"/>
<circle cx="116.9" cy="307.3" r="2.8" fill="#fff" stroke="#000" stroke-width="1.45"/>
<circle cx="127.5" cy="288.7" r="2.8" fill="#fff" stroke="#000" stroke-width="1.45"/>
<circle cx="137.7" cy="351.7" r="2.8" fill="#fff" stroke="#000" stroke-width="1.45"/>
<circle cx="152.8" cy="347.2" r="2.8" fill="#fff" stroke="#000" stroke-width="1.45"/>
<circle cx="163.4" cy="422" r="2.8" fill="#fff" stroke="#000" stroke-width="1.45"/>
<circle cx="174.1" cy="446.7" r="2.8" fill="#fff" stroke="#000" stroke-width="1.45"/>
<circle cx="188.3" cy="451.8" r="2.8" fill="#fff" stroke="#000" stroke-width="1.45"/>
<circle cx="199.2" cy="461.8" r="2.8" fill="#fff" stroke="#000" stroke-width="1.45"/>
<circle cx="209.6" cy="470.2" r="2.8" fill="#fff" stroke="#000" stroke-width="1.45"/>
<circle cx="224.4" cy="481.8" r="2.8" fill="#fff" stroke="#000" stroke-width="1.45"/>
<circle cx="235.4" cy="488.4" r="2.8" fill="#fff" stroke="#000" stroke-width="1.45"/>
<circle cx="246.1" cy="490.1" r="2.8" fill="#fff" stroke="#000" stroke-width="1.45"/>
<circle cx="260.3" cy="491.6" r="2.8" fill="#fff" stroke="#000" stroke-width="1.45"/>
<path d="M68.9,336.5V346.5M82.8,342V354.5M94,339.5V349.5M105.2,356.2V376.4M118.7,376.7V408.6M129.9,399.2V432.8M140.9,426V446.3M155,467V475" stroke="#000" stroke-width="2.05" fill="none"/>
<circle cx="57.5" cy="337" r="3.65" fill="#000"/>
<circle cx="68.9" cy="341.6" r="3.65" fill="#000"/>
<circle cx="82.8" cy="348.4" r="3.65" fill="#000"/>
<circle cx="94" cy="344.5" r="3.65" fill="#000"/>
<circle cx="105.2" cy="365.9" r="3.65" fill="#000"/>
<circle cx="118.7" cy="391.8" r="3.65" fill="#000"/>
<circle cx="129.9" cy="416" r="3.65" fill="#000"/>
<circle cx="140.9" cy="436.8" r="3.65" fill="#000"/>
<circle cx="155" cy="470.9" r="3.65" fill="#000"/>
<circle cx="165.6" cy="488.4" r="3.65" fill="#000"/>
<circle cx="176.4" cy="487.8" r="3.65" fill="#000"/>
<circle cx="191" cy="488.7" r="3.65" fill="#000"/>
<circle cx="201.6" cy="491" r="3.65" fill="#000"/>
<circle cx="212.5" cy="491.6" r="3.65" fill="#000"/>
<circle cx="226.7" cy="491.6" r="3.65" fill="#000"/>
<circle cx="237.7" cy="491.9" r="3.65" fill="#000"/>
<circle cx="248.4" cy="491.9" r="3.65" fill="#000"/>
<circle cx="262.9" cy="491.9" r="3.65" fill="#000"/>
</g>
<g id="plot4">
<path d="M307.4,266.35V493.75" stroke="#000" stroke-width="1.7" fill="none"/>
<path d="M306.4,492.8H519.95" stroke="#000" stroke-width="1.9" fill="none"/>
<path d="M519.1,266.35V493.75" stroke="#000" stroke-width="1.7" fill="none"/>
<path d="M306.4,267.2H519.95" stroke="#000" stroke-width="1.7" fill="none"/>
<path d="M310.24,492.8v-3.6M310.24,267.2v4.7M312.64,492.8v-3.6M312.64,267.2v4.7M314.72,492.8v-3.6M314.72,267.2v4.7M316.56,492.8v-3.6M316.56,267.2v4.7M318.2,492.8v-6.0M318.2,267.2v7.0M329.01,492.8v-3.6M329.01,267.2v4.7M335.33,492.8v-3.6M335.33,267.2v4.7M339.81,492.8v-3.6M339.81,267.2v4.7M343.29,492.8v-3.6M343.29,267.2v4.7M346.14,492.8v-3.6M346.14,267.2v4.7M348.54,492.8v-3.6M348.54,267.2v4.7M350.62,492.8v-3.6M350.62,267.2v4.7M352.46,492.8v-3.6M352.46,267.2v4.7M354.1,492.8v-6.0M354.1,267.2v7.0M364.91,492.8v-3.6M364.91,267.2v4.7M371.23,492.8v-3.6M371.23,267.2v4.7M375.71,492.8v-3.6M375.71,267.2v4.7M379.19,492.8v-3.6M379.19,267.2v4.7M382.04,492.8v-3.6M382.04,267.2v4.7M384.44,492.8v-3.6M384.44,267.2v4.7M386.52,492.8v-3.6M386.52,267.2v4.7M388.36,492.8v-3.6M388.36,267.2v4.7M390,492.8v-6.0M390,267.2v7.0M400.81,492.8v-3.6M400.81,267.2v4.7M407.13,492.8v-3.6M407.13,267.2v4.7M411.61,492.8v-3.6M411.61,267.2v4.7M415.09,492.8v-3.6M415.09,267.2v4.7M417.94,492.8v-3.6M417.94,267.2v4.7M420.34,492.8v-3.6M420.34,267.2v4.7M422.42,492.8v-3.6M422.42,267.2v4.7M424.26,492.8v-3.6M424.26,267.2v4.7M425.9,492.8v-6.0M425.9,267.2v7.0M436.71,492.8v-3.6M436.71,267.2v4.7M443.03,492.8v-3.6M443.03,267.2v4.7M447.51,492.8v-3.6M447.51,267.2v4.7M450.99,492.8v-3.6M450.99,267.2v4.7M453.84,492.8v-3.6M453.84,267.2v4.7M456.24,492.8v-3.6M456.24,267.2v4.7M458.32,492.8v-3.6M458.32,267.2v4.7M460.16,492.8v-3.6M460.16,267.2v4.7M461.8,492.8v-6.0M461.8,267.2v7.0M472.61,492.8v-3.6M472.61,267.2v4.7M478.93,492.8v-3.6M478.93,267.2v4.7M483.41,492.8v-3.6M483.41,267.2v4.7M486.89,492.8v-3.6M486.89,267.2v4.7M489.74,492.8v-3.6M489.74,267.2v4.7M492.14,492.8v-3.6M492.14,267.2v4.7M494.22,492.8v-3.6M494.22,267.2v4.7M496.06,492.8v-3.6M496.06,267.2v4.7M497.7,492.8v-6.0M497.7,267.2v7.0M508.51,492.8v-3.6M508.51,267.2v4.7M514.83,492.8v-3.6M514.83,267.2v4.7" stroke="#000" stroke-width="1.55" fill="none"/>
<path d="M307.4,472.28h3.5M519.1,472.28h-4.3M307.4,451.76h6.3M519.1,451.76h-6.3M307.4,431.24h3.5M519.1,431.24h-4.3M307.4,410.72h6.3M519.1,410.72h-6.3M307.4,390.2h3.5M519.1,390.2h-4.3M307.4,369.68h6.3M519.1,369.68h-6.3M307.4,349.16h3.5M519.1,349.16h-4.3M307.4,328.64h6.3M519.1,328.64h-6.3M307.4,308.12h3.5M519.1,308.12h-4.3M307.4,287.6h6.3M519.1,287.6h-6.3" stroke="#000" stroke-width="1.45" fill="none"/>
<text transform="translate(302.6,497.3) scale(1.06,1)" text-anchor="end" class="tk">0</text>
<text transform="translate(302.6,456.3) scale(1.06,1)" text-anchor="end" class="tk">20</text>
<text transform="translate(302.6,415.3) scale(1.06,1)" text-anchor="end" class="tk">40</text>
<text transform="translate(302.6,374.3) scale(1.06,1)" text-anchor="end" class="tk">60</text>
<text transform="translate(302.6,333.3) scale(1.06,1)" text-anchor="end" class="tk">80</text>
<text transform="translate(302.6,292.3) scale(1.06,1)" text-anchor="end" class="tk">100</text>
<text transform="translate(309.9,512) scale(1.02,1)" class="tk">10<tspan dx="0.5" dy="-3.3" class="sup">1</tspan></text>
<text transform="translate(346.72,512) scale(1.02,1)" class="tk">10<tspan dx="0.5" dy="-3.3" class="sup">2</tspan></text>
<text transform="translate(383.54,512) scale(1.02,1)" class="tk">10<tspan dx="0.5" dy="-3.3" class="sup">3</tspan></text>
<text transform="translate(420.36,512) scale(1.02,1)" class="tk">10<tspan dx="0.5" dy="-3.3" class="sup">4</tspan></text>
<text transform="translate(457.18,512) scale(1.02,1)" class="tk">10<tspan dx="0.5" dy="-3.3" class="sup">5</tspan></text>
<text transform="translate(494,512) scale(1.02,1)" class="tk">10<tspan dx="0.5" dy="-3.3" class="sup">6</tspan></text>
<text transform="translate(512.6,292.4) scale(0.99,1)" text-anchor="end" class="ti" style="font-size:13.8px">NP-18</text>
<path d="M307.4,335.3 L308.9,338.7 L310.4,342.2 L311.9,346.0 L313.4,349.8 L314.9,353.9 L316.4,358.1 L317.9,362.4 L319.4,366.8 L320.9,371.4 L322.4,376.0 L323.9,380.8 L325.4,385.5 L326.9,390.4 L328.4,395.2 L329.9,400.0 L331.4,404.8 L332.9,409.6 L334.4,414.3 L335.9,418.9 L337.4,423.5 L338.9,427.9 L340.4,432.1 L341.9,436.2 L343.4,440.2 L344.9,444.0 L346.4,447.6 L347.9,451.0 L349.4,454.3 L350.9,457.3 L352.4,460.2 L353.9,462.9 L355.4,465.4 L356.9,467.8 L358.4,469.9 L359.9,472.0 L361.4,473.8 L362.9,475.5 L364.4,477.1 L365.9,478.5 L367.4,479.9 L368.9,481.1 L370.4,482.2 L371.9,483.2 L373.4,484.1 L374.9,484.9 L376.4,485.7 L377.9,486.3 L379.4,486.9 L380.9,487.5 L382.4,488.0 L383.9,488.5 L385.4,488.9 L386.9,489.2 L388.4,489.6 L389.9,489.9 L391.4,490.1 L392.9,490.4 L394.4,490.6 L395.9,490.8 L397.4,490.9 L398.9,491.1 L400.4,491.2 L401.9,491.4 L403.4,491.5 L404.9,491.6 L406.4,491.7 L407.9,491.7 L409.4,491.8 L410.9,491.9 L412.4,491.9 L413.9,492.0 L415.4,492.0 L416.9,492.1 L418.4,492.1 L419.9,492.1 L421.4,492.2 L422.9,492.2 L424.4,492.2 L425.9,492.2 L427.4,492.2 L428.9,492.3 L430.4,492.3 L431.9,492.3 L433.4,492.3 L434.9,492.3 L436.4,492.3 L437.9,492.3 L439.4,492.3 L440.9,492.3 L442.4,492.4 L443.9,492.4 L445.4,492.4 L446.9,492.4 L448.4,492.4 L449.9,492.4 L451.4,492.4 L452.9,492.4 L454.4,492.4 L455.9,492.4 L457.4,492.4 L458.9,492.4 L460.4,492.4 L461.9,492.4 L463.4,492.4 L464.9,492.4 L466.4,492.4 L467.9,492.4 L469.4,492.4 L470.9,492.4 L472.4,492.4 L473.9,492.4 L475.4,492.4 L476.9,492.4 L478.4,492.4 L479.9,492.4 L481.4,492.4 L482.9,492.4 L484.4,492.4 L485.9,492.4 L487.4,492.4 L488.9,492.4 L490.4,492.4 L491.9,492.4 L493.4,492.4 L494.9,492.4 L496.4,492.4 L497.9,492.4 L499.4,492.4 L500.9,492.4 L502.4,492.4 L503.9,492.4 L505.4,492.4 L506.9,492.4 L508.4,492.4 L509.9,492.4 L511.4,492.4 L512.9,492.4 L514.4,492.4 L515.9,492.4 L517.4,492.4" fill="none" stroke="#000" stroke-width="3.0" stroke-linejoin="round"/>
<path d="M307.4,299.1 L308.9,300.0 L310.4,301.1 L311.9,302.1 L313.4,303.3 L314.9,304.5 L316.4,305.7 L317.9,307.1 L319.4,308.5 L320.9,310.0 L322.4,311.6 L323.9,313.2 L325.4,314.9 L326.9,316.8 L328.4,318.7 L329.9,320.7 L331.4,322.8 L332.9,324.9 L334.4,327.2 L335.9,329.6 L337.4,332.0 L338.9,334.6 L340.4,337.2 L341.9,339.9 L343.4,342.8 L344.9,345.7 L346.4,348.6 L347.9,351.7 L349.4,354.8 L350.9,358.1 L352.4,361.3 L353.9,364.7 L355.4,368.0 L356.9,371.5 L358.4,374.9 L359.9,378.4 L361.4,382.0 L362.9,385.5 L364.4,389.0 L365.9,392.6 L367.4,396.1 L368.9,399.6 L370.4,403.1 L371.9,406.6 L373.4,410.0 L374.9,413.4 L376.4,416.7 L377.9,420.0 L379.4,423.1 L380.9,426.3 L382.4,429.3 L383.9,432.3 L385.4,435.2 L386.9,437.9 L388.4,440.7 L389.9,443.3 L391.4,445.8 L392.9,448.2 L394.4,450.6 L395.9,452.8 L397.4,455.0 L398.9,457.0 L400.4,459.0 L401.9,460.9 L403.4,462.7 L404.9,464.4 L406.4,466.0 L407.9,467.6 L409.4,469.0 L410.9,470.4 L412.4,471.8 L413.9,473.0 L415.4,474.2 L416.9,475.3 L418.4,476.4 L419.9,477.4 L421.4,478.3 L422.9,479.2 L424.4,480.0 L425.9,480.8 L427.4,481.6 L428.9,482.3 L430.4,482.9 L431.9,483.6 L433.4,484.1 L434.9,484.7 L436.4,485.2 L437.9,485.7 L439.4,486.1 L440.9,486.6 L442.4,487.0 L443.9,487.3 L445.4,487.7 L446.9,488.0 L448.4,488.3 L449.9,488.6 L451.4,488.9 L452.9,489.1 L454.4,489.4 L455.9,489.6 L457.4,489.8 L458.9,490.0 L460.4,490.2 L461.9,490.3 L463.4,490.5 L464.9,490.7 L466.4,490.8 L467.9,490.9 L469.4,491.1 L470.9,491.2 L472.4,491.3 L473.9,491.4 L475.4,491.5 L476.9,491.6 L478.4,491.6 L479.9,491.7 L481.4,491.8 L482.9,491.8 L484.4,491.9 L485.9,492.0 L487.4,492.0 L488.9,492.1 L490.4,492.1 L491.9,492.2 L493.4,492.2 L494.9,492.2 L496.4,492.3 L497.9,492.3 L499.4,492.3 L500.9,492.4 L502.4,492.4 L503.9,492.4 L505.4,492.5 L506.9,492.5 L508.4,492.5 L509.9,492.5 L511.4,492.5 L512.9,492.6 L514.4,492.6 L515.9,492.6 L517.4,492.6" fill="none" stroke="#000" stroke-width="2.9" stroke-dasharray="5 4.4" stroke-linejoin="round"/>
<path d="M319.1,296.5V304M333.2,324.5V333M344.2,344.5V355M355,360.7V379.8M369.1,393V403M379.6,418.5V425.5M390.8,440V450M404.8,459.5V466M427.1,479.5V486.5" stroke="#000" stroke-width="2.05" fill="none"/>
<circle cx="308.3" cy="294.1" r="2.8" fill="#fff" stroke="#000" stroke-width="1.45"/>
<circle cx="319.1" cy="300.1" r="2.8" fill="#fff" stroke="#000" stroke-width="1.45"/>
<circle cx="333.2" cy="328.6" r="2.8" fill="#fff" stroke="#000" stroke-width="1.45"/>
<circle cx="344.2" cy="349.5" r="2.8" fill="#fff" stroke="#000" stroke-width="1.45"/>
<circle cx="355" cy="370.5" r="2.8" fill="#fff" stroke="#000" stroke-width="1.45"/>
<circle cx="369.1" cy="398" r="2.8" fill="#fff" stroke="#000" stroke-width="1.45"/>
<circle cx="379.6" cy="422" r="2.8" fill="#fff" stroke="#000" stroke-width="1.45"/>
<circle cx="390.8" cy="445.1" r="2.8" fill="#fff" stroke="#000" stroke-width="1.45"/>
<circle cx="404.8" cy="462.6" r="2.8" fill="#fff" stroke="#000" stroke-width="1.45"/>
<circle cx="416" cy="471.5" r="2.8" fill="#fff" stroke="#000" stroke-width="1.45"/>
<circle cx="427.1" cy="483.1" r="2.8" fill="#fff" stroke="#000" stroke-width="1.45"/>
<circle cx="440.4" cy="488.9" r="2.8" fill="#fff" stroke="#000" stroke-width="1.45"/>
<circle cx="452.1" cy="488.5" r="2.8" fill="#fff" stroke="#000" stroke-width="1.45"/>
<circle cx="463.3" cy="488.9" r="2.8" fill="#fff" stroke="#000" stroke-width="1.45"/>
<circle cx="477.8" cy="488.5" r="2.8" fill="#fff" stroke="#000" stroke-width="1.45"/>
<circle cx="488.3" cy="488.9" r="2.8" fill="#fff" stroke="#000" stroke-width="1.45"/>
<circle cx="498.8" cy="489.4" r="2.8" fill="#fff" stroke="#000" stroke-width="1.45"/>
<circle cx="513.3" cy="486.1" r="2.8" fill="#fff" stroke="#000" stroke-width="1.45"/>
<path d="M310.8,339.4V360.7M321.3,366.5V375.5M335.4,407V423.8M346.4,442V455" stroke="#000" stroke-width="2.05" fill="none"/>
<circle cx="310.8" cy="349.5" r="3.65" fill="#000"/>
<circle cx="321.3" cy="371" r="3.65" fill="#000"/>
<circle cx="335.4" cy="415.5" r="3.65" fill="#000"/>
<circle cx="346.4" cy="448.5" r="3.65" fill="#000"/>
<circle cx="357.6" cy="473.2" r="3.65" fill="#000"/>
<circle cx="371.8" cy="486.6" r="3.65" fill="#000"/>
<circle cx="382.3" cy="490.5" r="3.65" fill="#000"/>
<circle cx="393.1" cy="490.5" r="3.65" fill="#000"/>
<circle cx="407.7" cy="491.6" r="3.65" fill="#000"/>
<circle cx="418.2" cy="490.8" r="3.65" fill="#000"/>
<circle cx="429.4" cy="490.1" r="3.65" fill="#000"/>
<circle cx="443.9" cy="490.1" r="3.65" fill="#000"/>
<circle cx="454.4" cy="490.6" r="3.65" fill="#000"/>
<circle cx="465.4" cy="490.6" r="3.65" fill="#000"/>
<circle cx="479.6" cy="490.8" r="3.65" fill="#000"/>
<circle cx="490.6" cy="490.8" r="3.65" fill="#000"/>
<circle cx="501.1" cy="491.3" r="3.65" fill="#000"/>
<circle cx="515.6" cy="492.4" r="3.65" fill="#000"/>
</g>
<text transform="translate(-0.7,9.9) scale(1.06,1)" class="pl">a</text>
<text transform="translate(-0.9,624.7) scale(1.1,1)" class="pl">b</text>
<text transform="translate(17.2,335.2) rotate(-90)" class="ax" style="font-size:13.55px">% cell viability</text>
<text x="258.3" y="541.8" class="ax">vp/cell</text>
<path d="M367.7,552.5h2.4M385.5,552.5h2.4" stroke="#000" stroke-width="2.7"/>
<circle cx="376.7" cy="552.4" r="2.5" fill="#fff" stroke="#000" stroke-width="1.9"/>
<path d="M367.8,577.5H388.7" stroke="#000" stroke-width="3"/>
<circle cx="377" cy="577.4" r="3.45" fill="#000"/>
<text transform="translate(397.2,557.2) scale(1.05,1)" class="lg">AdTK</text>
<text transform="translate(397.2,582.8) scale(1.075,1)" class="lg">AdRGDT at8-TK-L</text>
<path d="M20.2,612.1H535" stroke="#000" stroke-width="2.1"/>
<path d="M20.2,633.1H535" stroke="#000" stroke-width="1.6"/>
<path d="M20.2,716.9H535" stroke="#000" stroke-width="2.1"/>
<text transform="translate(33,627.4) scale(1.025,1)" class="tb">Cell line</text>
<text transform="translate(233.4,627.3) scale(1.025,1)" text-anchor="middle" class="tb">AdTK</text>
<text transform="translate(429.5,627.3) scale(1.008,1)" text-anchor="middle" class="tb">AdRGDT at8-TK-L</text>
<text transform="translate(55,649.8) scale(1.025,1)" text-anchor="middle" class="tb">BxPC-3</text>
<text transform="translate(233.3,649.7) scale(1.005,1)" text-anchor="middle" class="tb">182.00 ± 34.23</text>
<text transform="translate(429.4,649.7) scale(1.003,1)" text-anchor="middle" class="tb">84.98 ± 15.63</text>
<text transform="translate(55,669.7) scale(1.025,1)" text-anchor="middle" class="tb">PANC-1</text>
<text transform="translate(233.3,670.2) scale(1.005,1)" text-anchor="middle" class="tb">5647.22 ± 589.75</text>
<text transform="translate(429.4,670.2) scale(1.003,1)" text-anchor="middle" class="tb">643.15 ± 72.42</text>
<text transform="translate(55,688.6) scale(1.025,1)" text-anchor="middle" class="tb">NP-31</text>
<text transform="translate(233.3,691) scale(1.005,1)" text-anchor="middle" class="tb">2168.95 ± 224.00</text>
<text transform="translate(429.4,691) scale(1.003,1)" text-anchor="middle" class="tb">1071.17 ± 44.43</text>
<text transform="translate(55,711) scale(1.025,1)" text-anchor="middle" class="tb">NP-18</text>
<text transform="translate(233.3,711.2) scale(1.005,1)" text-anchor="middle" class="tb">188.80 ± 16.61</text>
<text transform="translate(429.4,711.2) scale(1.003,1)" text-anchor="middle" class="tb">17.59 ± 1.13</text>
</svg>
</body>
</html>
